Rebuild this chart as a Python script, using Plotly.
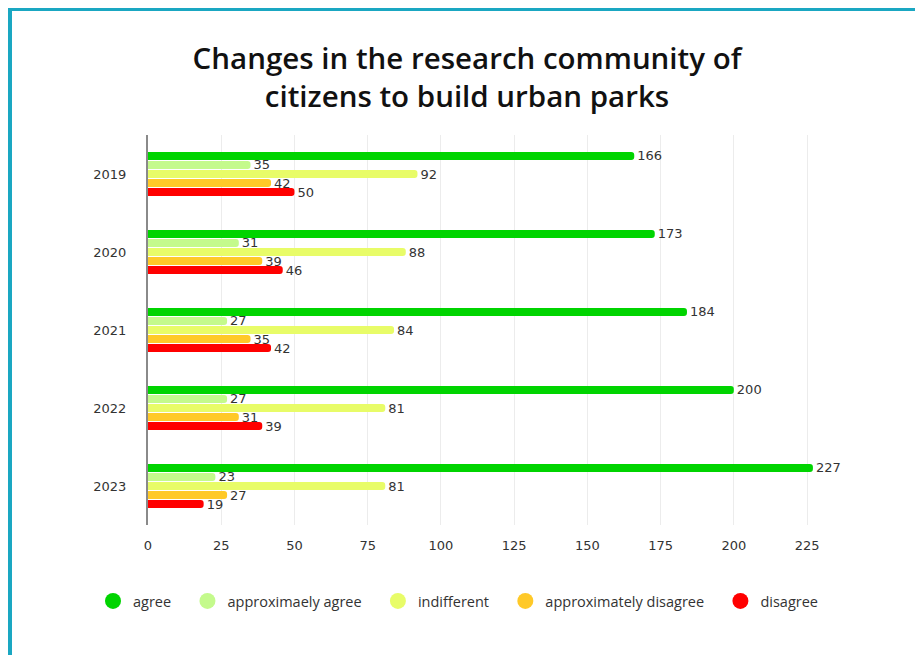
import plotly.graph_objects as go

years = ["2019", "2020", "2021", "2022", "2023"]
series_names = ["agree", "approximaely agree", "indifferent", "approximately disagree", "disagree"]
agree = [166, 173, 184, 200, 227]
approx_agree = [35, 31, 27, 27, 23]
indifferent = [92, 88, 84, 81, 81]
approx_disagree = [42, 39, 35, 31, 27]
disagree = [50, 46, 42, 39, 19]
x_ticks = [0, 25, 50, 75, 100, 125, 150, 175, 200, 225]

colors = ["#00d400", "#c4fa8c", "#e8fc68", "#ffc928", "#ff0000"]
values = [agree, approx_agree, indifferent, approx_disagree, disagree]

# page body has an 8px margin, so target positions are shifted by -8
W, H = 915, 647
L, R, T, B = 140, 72, 127, 130
pw, ph = W - L - R, H - T - B

fig = go.Figure()
for name, vals, col in zip(series_names, values, colors):
    fig.add_trace(go.Bar(
        y=years, x=vals, orientation="h", name=name,
        marker=dict(color=col, line=dict(width=0)),
        text=[str(v) for v in vals], textposition="outside",
        textfont=dict(size=13, color="#333333", family="DejaVu Sans"),
        constraintext="none", cliponaxis=False, showlegend=False,
        hoverinfo="skip",
    ))
pad = "\u00a0\u00a0\u00a0"
for name, col in zip(series_names, colors):
    fig.add_trace(go.Scatter(
        x=[None], y=[None], mode="markers", name=name + pad,
        marker=dict(color=col, size=16, symbol="circle"),
        showlegend=True,
    ))

def px_x(p):
    return (p - L) / pw

def px_y(p):
    return (H - B - p) / ph

border = "#1aa7c2"
fig.add_shape(type="line", xref="paper", yref="paper",
              x0=px_x(0), x1=px_x(930), y0=px_y(1), y1=px_y(1),
              line=dict(color=border, width=4))
fig.add_shape(type="line", xref="paper", yref="paper",
              x0=px_x(2), x1=px_x(2), y0=px_y(-1), y1=px_y(660),
              line=dict(color=border, width=4))

fig.update_layout(
    width=W, height=H,
    margin=dict(l=L, r=R, t=T, b=B),
    paper_bgcolor="white", plot_bgcolor="white",
    barmode="group", bargap=0.42, bargroupgap=0.12, barcornerradius=4,
    title=dict(
        text="Changes in the research community of<br>citizens to build urban parks",
        x=459 / W, xanchor="center", y=1 - 60.5 / H, yanchor="middle",
        font=dict(family="Open Sans", size=29.5, color="#111111", weight=600),
    ),
    xaxis=dict(
        range=[0, 240], tickvals=x_ticks, showgrid=True, gridcolor="#ececec",
        gridwidth=1, zeroline=False, showline=False,
        tickfont=dict(family="DejaVu Sans", size=13, color="#333333"),
        ticks="", ticklabelstandoff=11,
    ),
    yaxis=dict(
        autorange="reversed", showline=True, linecolor="#8a8a8a", linewidth=2,
        tickfont=dict(family="DejaVu Sans", size=13, color="#333333"),
        ticks="", ticklabelstandoff=17, showgrid=False,
    ),
    legend=dict(
        orientation="h", x=px_x(85), xanchor="left", y=px_y(593), yanchor="middle",
        font=dict(family="Open Sans", size=14.5, color="#333333"),
        itemclick=False,
    ),
)

fig.write_html("out.html")
